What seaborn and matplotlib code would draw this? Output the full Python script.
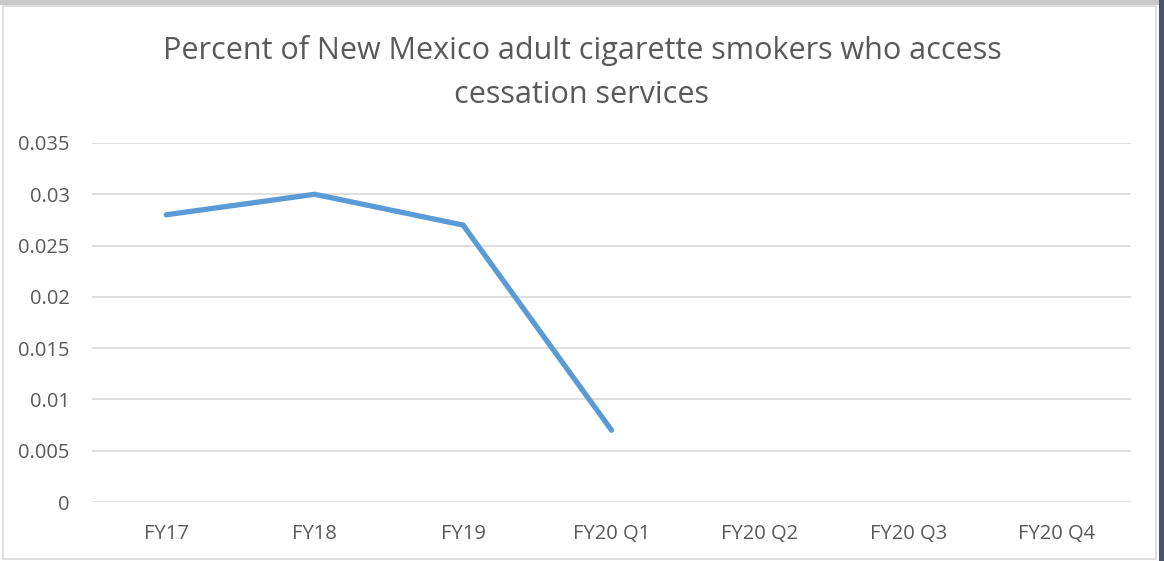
import numpy as np
import pandas as pd
import matplotlib
matplotlib.use("Agg")
import matplotlib.pyplot as plt
from matplotlib.ticker import FuncFormatter
from matplotlib.patches import Rectangle
import seaborn as sns

categories = ["FY17", "FY18", "FY19", "FY20 Q1", "FY20 Q2", "FY20 Q3", "FY20 Q4"]
values = [0.028, 0.030, 0.027, 0.007, np.nan, np.nan, np.nan]
yticks = [0, 0.005, 0.01, 0.015, 0.02, 0.025, 0.03, 0.035]
title = "Percent of New Mexico adult cigarette smokers who access\ncessation services"

sns.set_theme(style="white")
plt.rcParams['font.family'] = ['Open Sans', 'DejaVu Sans']

df = pd.DataFrame({"pos": np.arange(len(categories)), "value": values})

fig = plt.figure(figsize=(11.64, 5.61), dpi=100)
W, H = 1164, 561
# outer frame decoration
fig.patches.append(Rectangle((0, 1 - 5 / H), 1, 5 / H, transform=fig.transFigure,
                             facecolor="#C8C8C8", edgecolor="none"))
fig.patches.append(Rectangle((1159 / W, 0), 5 / W, 1, transform=fig.transFigure,
                             facecolor="#44546A", edgecolor="none"))
fig.patches.append(Rectangle((3 / W, 2 / H), 1153 / W, (H - 8) / H, transform=fig.transFigure,
                             facecolor="none", edgecolor="#D9D9D9", linewidth=1.2))

ax = fig.add_axes([92 / W, 1 - 502 / H, (1131 - 92) / W, (502 - 143) / H])
sns.lineplot(data=df, x="pos", y="value", ax=ax, color="#5B9BD5", linewidth=3.8,
             solid_capstyle="round", solid_joinstyle="miter")

ax.set_xlim(-0.5, len(categories) - 0.5)
ax.set_ylim(0, 0.035)
ax.set_xticks(df["pos"])
ax.set_xticklabels(categories)
ax.set_yticks(yticks)
ax.yaxis.set_major_formatter(FuncFormatter(lambda v, p: f"{v:g}"))
ax.grid(axis="y", color="#D9D9D9", linewidth=1.2)
ax.set_axisbelow(True)
for s in ax.spines.values():
    s.set_visible(False)
ax.tick_params(axis="both", length=0, labelsize=14.5, colors="#595959")
ax.tick_params(axis="y", pad=16)
ax.tick_params(axis="x", pad=16)
ax.set_xlabel("")
ax.set_ylabel("")

fig.text(0.5, 1 - 50 / H, title.split("\n")[0], ha="center", va="center",
         fontsize=22, color="#595959")
fig.text(0.5, 1 - 95 / H, title.split("\n")[1], ha="center", va="center",
         fontsize=22, color="#595959")

fig.savefig("out.png", dpi=100, facecolor="white")
